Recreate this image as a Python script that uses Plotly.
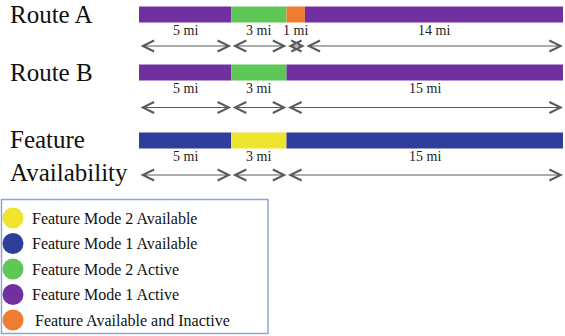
import plotly.graph_objects as go

# ---------------- data ----------------
row_names = ["Route A", "Route B", "Feature<br>Availability"]
route_a_miles = [5, 3, 1, 14]
route_a_states = ["Feature Mode 1 Active", "Feature Mode 2 Active",
                  "Feature Available and Inactive", "Feature Mode 1 Active"]
route_b_miles = [5, 3, 15]
route_b_states = ["Feature Mode 1 Active", "Feature Mode 2 Active", "Feature Mode 1 Active"]
feature_miles = [5, 3, 15]
feature_states = ["Feature Mode 1 Available", "Feature Mode 2 Available", "Feature Mode 1 Available"]
legend_states = ["Feature Mode 2 Available", "Feature Mode 1 Available",
                 "Feature Mode 2 Active", "Feature Mode 1 Active",
                 "Feature Available and Inactive"]
state_colors = {
    "Feature Mode 2 Available": "#efe42e",
    "Feature Mode 1 Available": "#2f3e9c",
    "Feature Mode 2 Active": "#5dc856",
    "Feature Mode 1 Active": "#7030a0",
    "Feature Available and Inactive": "#ee7d31",
}

rows_miles = [route_a_miles, route_b_miles, feature_miles]
rows_states = [route_a_states, route_b_states, feature_states]

# ---------------- layout (pixel positions, y measured from top) ----------------
W, H = 565, 336
bar_y = [14.5, 72.5, 140.5]
bar_h = [16, 16, 16]
label_y = [30.5, 88, 156]
arrow_y = [46, 107.5, 175]
title_y = [14.5, 72, 156]
SERIF = "Liberation Serif"
ARROW_COLOR = "#5a5a5a"

fig = go.Figure()
annotations = []
shapes = []

total = sum(route_a_miles)
for r in range(3):
    miles = rows_miles[r]
    states = rows_states[r]
    bases = []
    acc = 0
    for m in miles:
        bases.append(acc)
        acc += m
    fig.add_trace(go.Bar(
        orientation="h",
        x=miles, base=bases, y=[bar_y[r]] * len(miles),
        width=bar_h[r],
        marker=dict(color=[state_colors[s] for s in states], line=dict(width=0)),
        xaxis="x", yaxis="y", showlegend=False, hoverinfo="skip",
    ))
    for b, m in zip(bases, miles):
        annotations.append(dict(
            x=b + m / 2, y=label_y[r], xref="x", yref="y",
            text=f"{m} mi", showarrow=False,
            font=dict(family=SERIF, size=14, color="#222222"),
            xanchor="center", yanchor="middle",
        ))
        annotations.append(dict(
            x=b + m, y=arrow_y[r], ax=b, ay=arrow_y[r],
            xref="x", yref="y", axref="x", ayref="y",
            text="", showarrow=True,
            arrowhead=5, startarrowhead=5, arrowside="end+start",
            arrowsize=2.2, startarrowsize=2.2, arrowwidth=1,
            arrowcolor=ARROW_COLOR, standoff=0, startstandoff=0,
        ))
    annotations.append(dict(
        x=8, y=title_y[r], xref="x2", yref="y",
        text=row_names[r], showarrow=False, align="left",
        font=dict(family=SERIF, size=25, color="#111111"),
        xanchor="left", yanchor="middle",
    ))

# legend box
legend_item_y = [218, 243.5, 269, 294.5, 320]
legend_text_x = [30, 30, 30, 30, 33]
fig.add_trace(go.Scatter(
    x=[13] * len(legend_states), y=legend_item_y,
    mode="markers",
    marker=dict(size=21, color=[state_colors[s] for s in legend_states],
                line=dict(width=0)),
    xaxis="x2", yaxis="y", showlegend=False, hoverinfo="skip",
))
for s, yy, xx in zip(legend_states, legend_item_y, legend_text_x):
    annotations.append(dict(
        x=xx, y=yy, xref="x2", yref="y", text=s, showarrow=False,
        font=dict(family=SERIF, size=16, color="#111111"),
        xanchor="left", yanchor="middle",
    ))
shapes.append(dict(
    type="rect", xref="x2", yref="y", x0=1.5, x1=268, y0=199.5, y1=333.5,
    line=dict(color="#8fa4d6", width=1.5), fillcolor="rgba(0,0,0,0)", layer="below",
))

fig.update_layout(
    width=W, height=H,
    margin=dict(l=0, r=0, t=0, b=0),
    paper_bgcolor="white", plot_bgcolor="rgba(0,0,0,0)",
    barmode="overlay",
    showlegend=False,
    hovermode=False,
    xaxis=dict(domain=[139 / W, 563 / W], range=[0, total], visible=False,
               fixedrange=True),
    xaxis2=dict(domain=[0, 1], range=[0, W], visible=False, anchor="y",
                fixedrange=True),
    yaxis=dict(domain=[0, 1], range=[H, 0], visible=False, fixedrange=True),
    annotations=annotations,
    shapes=shapes,
)

fig.write_html("out.html", config={"displayModeBar": False},
               post_script="document.body.style.margin='0';document.body.style.padding='0';")
